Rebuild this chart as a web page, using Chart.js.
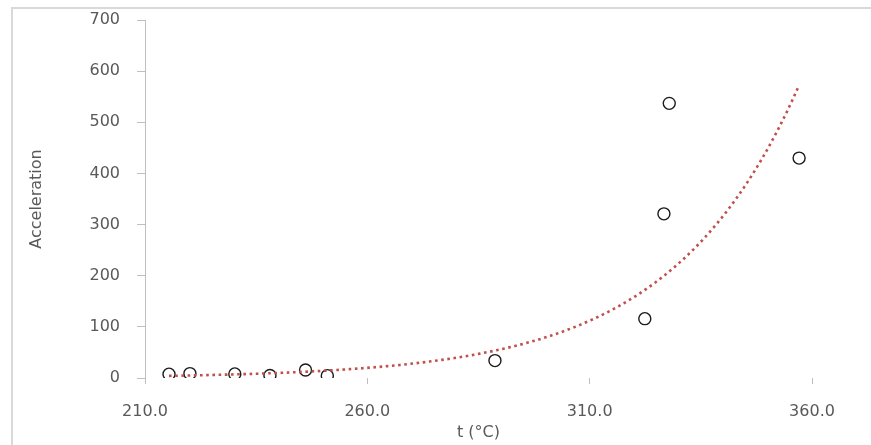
<!DOCTYPE html>
<html>
<head>
<meta charset="utf-8">
<script src="https://cdn.jsdelivr.net/npm/chart.js@4/dist/chart.umd.min.js"></script>
<style>
  html, body { margin: 0; padding: 0; background: #ffffff; }
  #wrap { width: 871px; height: 445px; position: relative; }
</style>
</head>
<body>
<div id="wrap"><canvas id="chart" width="871" height="445"></canvas></div>
<script>
// Measured temperatures (°C) and acceleration factors
const temperatures = [215.4, 220.1, 230.2, 238.1, 246.1, 251.0, 288.7, 322.4, 326.7, 327.9, 357.1];
const accelerations = [7.5, 8.6, 8.0, 5.0, 15.5, 4.6, 34, 116, 321, 537, 430];

// Axis tick values
const xTicks = [210, 260, 310, 360];
const yTicks = [0, 100, 200, 300, 400, 500, 600, 700];

const points = temperatures.map((t, i) => ({ x: t, y: accelerations[i] }));

// Exponential least-squares trend (fit of ln y against x): y = a * e^(b x)
function expFit(xs, ys) {
  const n = xs.length;
  const lys = ys.map(v => Math.log(v));
  const mx = xs.reduce((s, v) => s + v, 0) / n;
  const my = lys.reduce((s, v) => s + v, 0) / n;
  let sxy = 0, sxx = 0;
  for (let i = 0; i < n; i++) {
    sxy += (xs[i] - mx) * (lys[i] - my);
    sxx += (xs[i] - mx) * (xs[i] - mx);
  }
  const b = sxy / sxx;
  const a = Math.exp(my - b * mx);
  return { a, b };
}
const fit = expFit(temperatures, accelerations);
const tMin = Math.min(...temperatures), tMax = Math.max(...temperatures);
const trend = [];
const steps = 150;
for (let i = 0; i <= steps; i++) {
  const x = tMin + (tMax - tMin) * i / steps;
  trend.push({ x, y: fit.a * Math.exp(fit.b * x) });
}

const textColor = '#595959';
const axisColor = '#BFBFBF';
const baseFont = { family: 'DejaVu Sans', size: 16 };

// Light grey frame round the whole chart
const framePlugin = {
  id: 'frame',
  afterDraw(chart) {
    const ctx = chart.ctx;
    ctx.save();
    ctx.strokeStyle = '#D9D9D9';
    ctx.lineWidth = 2;
    ctx.strokeRect(12, 8, 900, 500);
    ctx.restore();
  }
};

new Chart(document.getElementById('chart'), {
  type: 'scatter',
  data: {
    datasets: [
      {
        label: 'Acceleration',
        data: points,
        showLine: false,
        pointStyle: 'circle',
        pointRadius: 6,
        pointHoverRadius: 6,
        pointBorderWidth: 1.4,
        pointBorderColor: '#1a1a1a',
        pointBackgroundColor: 'rgba(0,0,0,0)',
        order: 2
      },
      {
        label: 'Expon. (Acceleration)',
        data: trend,
        showLine: true,
        pointRadius: 0,
        borderColor: '#C0504D',
        borderWidth: 2.6,
        borderDash: [2.6, 3.6],
        tension: 0,
        fill: false,
        order: 1
      }
    ]
  },
  options: {
    responsive: false,
    animation: false,
    events: [],
    layout: { padding: { left: 0, top: 20, right: 59, bottom: 0 } },
    plugins: {
      legend: { display: false },
      tooltip: { enabled: false }
    },
    scales: {
      x: {
        type: 'linear',
        min: 210,
        max: 360,
        afterBuildTicks(scale) { scale.ticks = xTicks.map(v => ({ value: v })); },
        afterFit(scale) { scale.height = 67; },
        border: { display: false },
        grid: { drawOnChartArea: false, drawTicks: true, tickLength: 6, color: axisColor, lineWidth: 1 },
        ticks: {
          color: textColor,
          font: baseFont,
          padding: 18,
          maxRotation: 0,
          callback: v => Number(v).toFixed(1)
        },
        title: {
          display: true,
          text: 't (°C)',
          color: textColor,
          font: baseFont,
          padding: { top: 0, bottom: 3 }
        }
      },
      y: {
        type: 'linear',
        min: 0,
        max: 700,
        afterBuildTicks(scale) { scale.ticks = yTicks.map(v => ({ value: v })); },
        afterFit(scale) {
          scale.width = 145;
          scale.paddingTop = 0;
          scale.paddingBottom = 0;
        },
        border: { display: true, color: axisColor, width: 1 },
        grid: { drawOnChartArea: false, drawTicks: true, tickLength: 8, color: axisColor, lineWidth: 1 },
        ticks: {
          color: textColor,
          font: baseFont,
          padding: 17
        },
        title: {
          display: true,
          text: 'Acceleration',
          color: textColor,
          font: baseFont,
          padding: { top: 27, bottom: 0 }
        }
      }
    }
  },
  plugins: [framePlugin]
});
</script>
</body>
</html>
